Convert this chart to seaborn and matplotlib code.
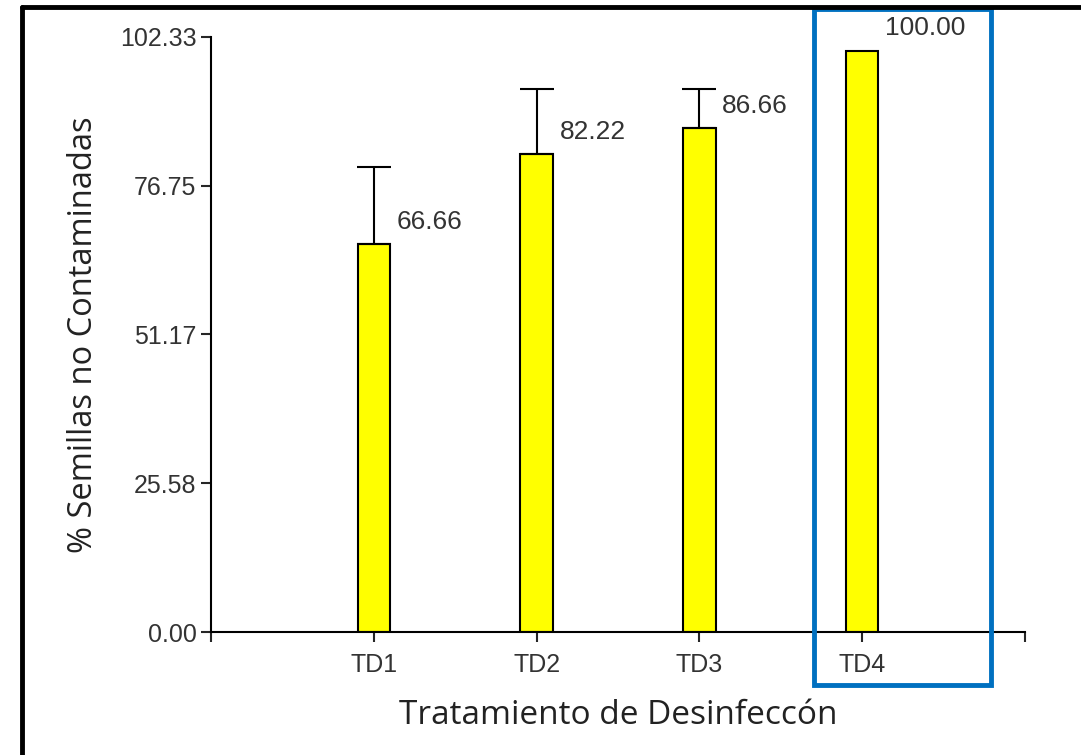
import pandas as pd
import numpy as np
import seaborn as sns
import matplotlib.pyplot as plt
from matplotlib.patches import Rectangle
from matplotlib.lines import Line2D

sns.set_style("white")
plt.rcParams['font.family'] = ['Liberation Sans', 'DejaVu Sans']

# datos
tratamientos = ["TD1", "TD2", "TD3", "TD4"]
porcentaje = [66.66, 82.22, 86.66, 100.00]
error = [13.33, 11.11, 6.67, 0.0]
yticks = [0.00, 25.58, 51.17, 76.75, 102.33]

df = pd.DataFrame({"trat": tratamientos, "pct": porcentaje, "err": error})

fig = plt.figure(figsize=(10.81, 7.55), dpi=100)
ax = fig.add_axes([0.1952, 0.1629, 0.9482 - 0.1952, 0.951 - 0.1629])

sns.barplot(data=df, x="trat", y="pct", color="#FFFF00", width=0.2,
            edgecolor="black", linewidth=1.5, saturation=1, errorbar=None, ax=ax)

# barras de error solo hacia arriba
pos = np.arange(len(df))
m = df["err"] > 0
ax.errorbar(pos[m], df["pct"][m], yerr=[np.zeros(m.sum()), df["err"][m]],
            fmt="none", ecolor="black", elinewidth=1.5, capsize=12, capthick=1.5)

# etiquetas de valor
for i, row in df.iterrows():
    ax.text(i + 0.14, row["pct"] + 3.8, f"{row['pct']:.2f}", fontsize=19,
            color="#333333", va="center", ha="left", clip_on=False)

ax.set_xlim(-1, 4)
ax.set_ylim(0, 102.33)
ax.set_yticks(yticks)
ax.set_yticklabels([f"{v:.2f}" for v in yticks])
ax.set_xticks([-1, 0, 1, 2, 3, 4])
ax.set_xticklabels([""] + tratamientos + [""])
ax.tick_params(axis="both", direction="out", length=7, width=1.5, labelsize=18,
               labelcolor="#333333", left=True, bottom=True)
ax.tick_params(axis="x", pad=8)

for s in ["top", "right"]:
    ax.spines[s].set_visible(False)
for s in ["left", "bottom"]:
    ax.spines[s].set_linewidth(1.5)
    ax.spines[s].set_color("black")

ax.set_xlabel("Tratamiento de Desinfeccón", fontsize=24, family=["Open Sans", "DejaVu Sans"],
              color="#222222", labelpad=16)
ax.set_ylabel("% Semillas no Contaminadas", fontsize=23.5, family=["Open Sans", "DejaVu Sans"],
              color="#222222", labelpad=14)

# recuadro azul que resalta TD4
fig.patches.append(Rectangle((0.753, 0.0927), 0.917 - 0.753, 0.988 - 0.0927,
                             transform=fig.transFigure, fill=False,
                             edgecolor="#0070C0", linewidth=3.5))

# marco negro de la imagen
fig.lines.append(Line2D([0.0204, 0.0204], [0, 0.9907], transform=fig.transFigure,
                        color="black", linewidth=3.5))
fig.lines.append(Line2D([0.0204, 1], [0.9907, 0.9907], transform=fig.transFigure,
                        color="black", linewidth=3.5))

plt.savefig("out.png", dpi=100)
